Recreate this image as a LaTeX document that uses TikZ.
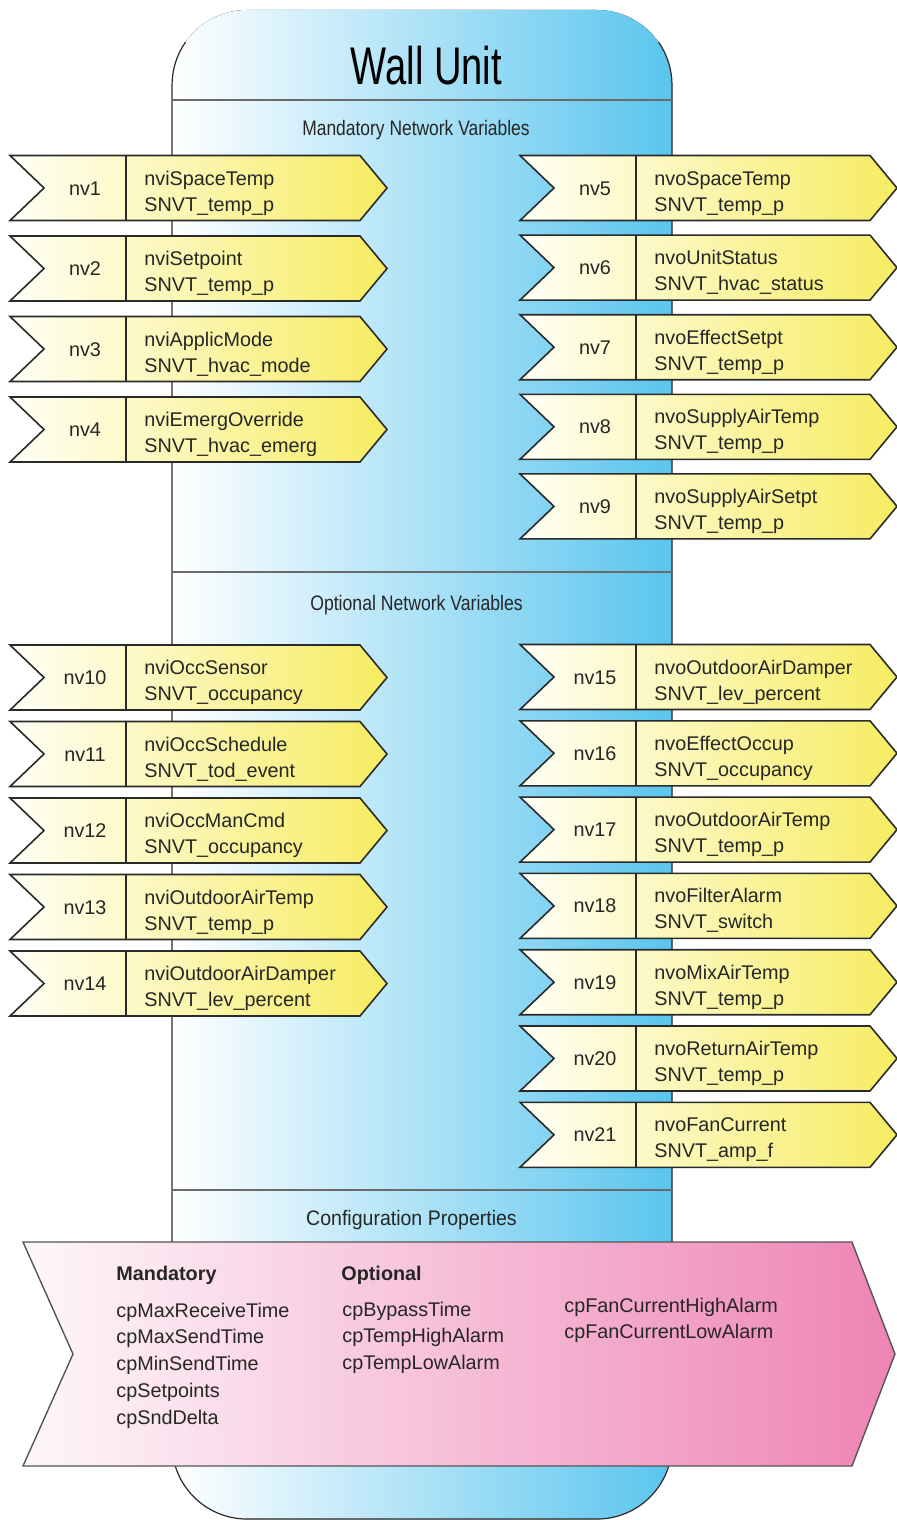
\documentclass[tikz,border=0pt]{standalone}
\usepackage{fontspec}
\setmainfont{Liberation Sans}
\usepackage{graphicx}

\definecolor{txtgray}{HTML}{262626}
\definecolor{linegray}{HTML}{2A2A2A}
\definecolor{rulegray}{HTML}{6A6A6A}
\definecolor{bluelo}{HTML}{FFFFFF}
\definecolor{bluehi}{HTML}{5AC5EE}
\definecolor{yellowlo}{HTML}{FFFFF6}
\definecolor{yellowhi}{HTML}{F6EC62}
\definecolor{pinklo}{HTML}{FEF7FA}
\definecolor{pinkhi}{HTML}{EE84B5}

\tikzset{
  nvshape/.style={draw=linegray, line width=0.8pt, line join=miter, left color=yellowlo, right color=yellowhi},
  nvrule/.style={draw=linegray, line width=0.6pt},
  nvnum/.style={anchor=base, inner sep=0pt, text=txtgray, font=\fontsize{9.9}{13}\selectfont},
  nvtext/.style={anchor=base west, inner sep=0pt, text=txtgray, font=\fontsize{9.9}{13}\selectfont},
  heading/.style={anchor=base, inner sep=0pt, text=txtgray, font=\fontsize{10.5}{12}\selectfont},
  cpshape/.style={draw=rulegray!80!black, line width=0.7pt, left color=pinklo, right color=pinkhi},
  cphead/.style={anchor=base west, inner sep=0pt, text=txtgray, font=\fontsize{9.9}{13}\selectfont\bfseries},
  cptext/.style={anchor=base west, inner sep=0pt, text=txtgray, font=\fontsize{9.9}{13}\selectfont}
}

\newcommand{\nvarrow}[5]{%
  \draw[nvshape] (#1,#2-32.5) -- ++(350,0) -- ++(27,32.5) -- ++(-27,32.5) -- ++(-350,0) -- ++(34,-32.5) -- cycle;
  \draw[nvrule] (#1+116,#2-32.5) -- (#1+116,#2+32.5);
  \node[nvnum] (nv#3) at (#1+75,#2+7) {nv#3};
  \node[nvtext] (nm#3) at (#1+134,#2-3) {#4};
  \node[nvtext] (ty#3) at (#1+134,#2+23) {#5};
}

\begin{document}
\begin{tikzpicture}[x=0.5pt, y=-0.5pt]
\useasboundingbox (0,0) rectangle (896,1520);

\fill[left color=bluelo, right color=bluehi, rounded corners=37.5pt] (172,10) rectangle (672,1519);
\draw[linegray, line width=0.6pt] (185.6,42) arc[start angle=215, end angle=180, radius=75] -- (172,1444)
  arc[start angle=180, end angle=90, radius=75] -- (597,1519)
  arc[start angle=90, end angle=0, radius=75] -- (672,85)
  arc[start angle=0, end angle=-35, radius=75];
\draw[rulegray, line width=0.6pt] (172,100) -- (672,100);
\draw[rulegray, line width=0.6pt] (172,572) -- (672,572);
\draw[rulegray, line width=0.6pt] (172,1190) -- (672,1190);

\node[anchor=base, inner sep=0pt, text=black, font=\fontsize{26.5}{30}\selectfont] (wall) at (426.5,85) {\scalebox{0.72}[1]{Wall Unit}};
\node[heading] (mand) at (416,135.5) {\scalebox{0.83}[1]{Mandatory Network Variables}};
\node[heading] (opt) at (416.5,610.5) {\scalebox{0.84}[1]{Optional Network Variables}};
\node[heading] (conf) at (411.5,1225.5) {\scalebox{0.93}[1]{Configuration Properties}};

\foreach \n/\y/\a/\b in {1/188/nviSpaceTemp/SNVT\_temp\_p, 2/268.5/nviSetpoint/SNVT\_temp\_p,
    3/349/nviApplicMode/SNVT\_hvac\_mode, 4/429.5/nviEmergOverride/SNVT\_hvac\_emerg,
    10/677.5/nviOccSensor/SNVT\_occupancy, 11/754/nviOccSchedule/SNVT\_tod\_event,
    12/830.5/nviOccManCmd/SNVT\_occupancy, 13/907/nviOutdoorAirTemp/SNVT\_temp\_p,
    14/983.5/nviOutdoorAirDamper/SNVT\_lev\_percent}
  {\nvarrow{10}{\y}{\n}{\a}{\b}}

\foreach \n/\y/\a/\b in {5/188/nvoSpaceTemp/SNVT\_temp\_p, 6/267.6/nvoUnitStatus/SNVT\_hvac\_status,
    7/347.2/nvoEffectSetpt/SNVT\_temp\_p, 8/426.8/nvoSupplyAirTemp/SNVT\_temp\_p,
    9/506.4/nvoSupplyAirSetpt/SNVT\_temp\_p,
    15/677/nvoOutdoorAirDamper/SNVT\_lev\_percent, 16/753.3/nvoEffectOccup/SNVT\_occupancy,
    17/829.6/nvoOutdoorAirTemp/SNVT\_temp\_p, 18/905.9/nvoFilterAlarm/SNVT\_switch,
    19/982.2/nvoMixAirTemp/SNVT\_temp\_p, 20/1058.5/nvoReturnAirTemp/SNVT\_temp\_p,
    21/1134.8/nvoFanCurrent/SNVT\_amp\_f}
  {\nvarrow{520}{\y}{\n}{\a}{\b}}

\draw[cpshape] (23,1242) -- (852,1242) -- (895,1354) -- (852,1466) -- (23,1466) -- (73,1354) -- cycle;
\node[cphead] (cpmand) at (116,1280) {Mandatory};
\node[cphead] (cpopt) at (341,1280) {Optional};
\foreach \t [count=\i] in {cpMaxReceiveTime, cpMaxSendTime, cpMinSendTime, cpSetpoints, cpSndDelta}
  \node[cptext] (cpm\i) at (116,1317+26.8*\i-26.8) {\t};
\foreach \t [count=\i] in {cpBypassTime, cpTempHighAlarm, cpTempLowAlarm}
  \node[cptext] (cpo\i) at (342,1316+26.8*\i-26.8) {\t};
\foreach \t [count=\i] in {cpFanCurrentHighAlarm, cpFanCurrentLowAlarm}
  \node[cptext] (cpf\i) at (564,1312+26.3*\i-26.3) {\t};
\end{tikzpicture}
\end{document}
